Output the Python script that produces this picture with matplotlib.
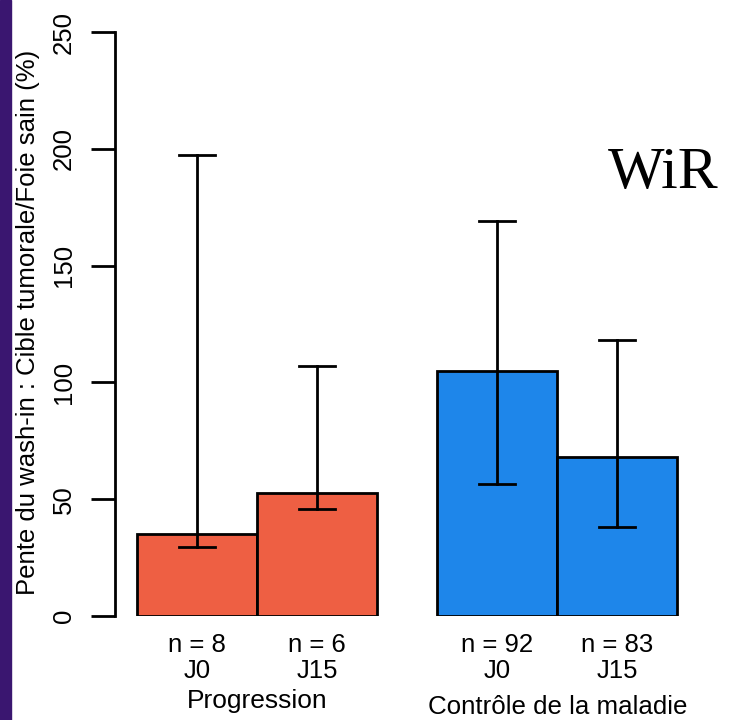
import matplotlib.pyplot as plt
from matplotlib.patches import Rectangle

# Values
groups = ["Progression", "Contrôle de la maladie"]
days = ["J0", "J15", "J0", "J15"]
counts = ["n = 8", "n = 6", "n = 92", "n = 83"]
means = [35, 52.5, 105, 68]
err_low = [29.5, 46, 56.5, 38]
err_high = [197.5, 107, 169, 118]
bar_x = [0.5, 1.5, 3.0, 4.0]
group_x = [1.0, 3.5]
colors = ["#EE5F43", "#EE5F43", "#1E86EA", "#1E86EA"]

plt.rcParams['font.family'] = ['Liberation Sans', 'DejaVu Sans']

fig = plt.figure(figsize=(7.29, 7.2), dpi=100)
fig.patches.append(Rectangle((0, 0), 11 / 729, 1, transform=fig.transFigure,
                             color="#3A1670", zorder=0))

ax = fig.add_axes([115 / 729, 104 / 720, 614 / 729, 584 / 720])
ax.bar(bar_x, means, width=1.0, color=colors, edgecolor="black", linewidth=2, zorder=2)
for x, lo, hi in zip(bar_x, err_low, err_high):
    ax.plot([x, x], [lo, hi], color="black", lw=2, zorder=3)
    ax.plot([x - 0.15, x + 0.15], [lo, lo], color="black", lw=2, zorder=3)
    ax.plot([x - 0.15, x + 0.15], [hi, hi], color="black", lw=2, zorder=3)

ax.set_xlim(-0.183, 4.93)
ax.set_ylim(0, 250)
ax.set_yticks([0, 50, 100, 150, 200, 250])
for s in ["top", "right", "bottom"]:
    ax.spines[s].set_visible(False)
ax.spines["left"].set_linewidth(2)
ax.set_xticks([])
ax.tick_params(axis="y", length=17, width=2, labelsize=18.5, pad=11)
for lab in ax.get_yticklabels():
    lab.set_rotation(90)
    lab.set_va("center")
ax.set_ylabel("Pente du wash-in : Cible tumorale/Foie sain (%)", fontsize=18.5)
ax.yaxis.set_label_coords(-0.122, 0.502)

for x, n, d in zip(bar_x, counts, days):
    ax.text(x, -12.4, n, ha="center", va="center", fontsize=18.5, clip_on=False)
    ax.text(x, -23.5, d, ha="center", va="center", fontsize=18.5, clip_on=False)
ax.text(group_x[0], -36.5, groups[0], ha="center", va="center", fontsize=19, clip_on=False)
ax.text(group_x[1], -38.8, groups[1], ha="center", va="center", fontsize=18.6, clip_on=False)

fig.text(608 / 729, 1 - 188 / 720, "WiR", fontsize=43,
         family=["Liberation Serif", "DejaVu Serif"], ha="left", va="baseline")

fig.savefig("out.png", dpi=100)
